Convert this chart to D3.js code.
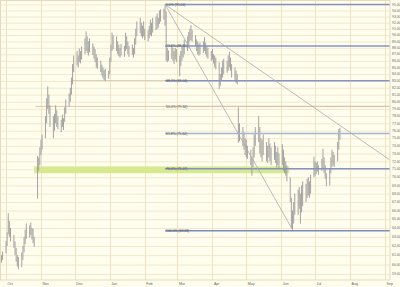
<!DOCTYPE html>
<html><head><meta charset="utf-8">
<script src="https://cdn.jsdelivr.net/npm/d3@7"></script>
<style>html,body{margin:0;padding:0;background:#FEFCEC;} svg{display:block;}</style>
</head><body><svg id="c" width="400" height="287"></svg>
<script>
// ---- data ----
const firstTradingDay = "2007-09-26";
const highs = [
 60.6,61.0,61.4,
 62.5,63.5,65.7,64.8,64.0,
 63.2,62.5,61.8,61.0,60.8,
 61.3,62.0,63.0,63.8,64.5,
 64.3,64.6,64.0,63.9,63.0,
 72.7,72.5,73.8,74.8,75.5,
 78.0,80.5,82.2,81.0,79.5,
 78.0,78.3,79.5,78.8,78.0,
 77.5,78.2,77.7,79.2,80.3,
 81.2,82.0,83.5,85.5,86.8,
 87.5,86.8,87.9,87.5,88.2,
 89.5,90.6,89.8,89.0,89.5,
 88.7,88.2,87.8,87.0,86.5,
 86.0,85.4,85.0,84.6,84.8,
 84.5,86.5,88.5,90.4,90.0,
 89.8,89.0,88.5,88.0,88.6,
 88.3,90.4,89.8,89.0,88.3,
 88.5,88.0,89.5,91.0,92.2,
 92.8,92.0,91.5,92.2,91.0,
 90.8,91.5,92.5,92.0,92.8,
 93.0,93.5,92.8,94.0,94.2,
 94.3,95.0,93.8,88.0,87.6,
 88.5,88.0,87.5,88.0,87.8,
 86.8,87.5,88.3,88.5,89.3,
 89.8,90.5,91.0,91.6,90.8,
 90.0,89.3,89.0,88.6,88.8,
 89.0,89.7,88.8,88.3,88.0,
 87.5,87.8,87.0,86.8,86.5,
 85.8,84.0,85.0,86.0,86.3,
 86.0,86.8,87.4,86.5,85.5,
 85.0,84.5,84.0,79.2,77.0,
 76.5,75.8,75.0,74.8,74.0,
 73.5,72.5,73.8,75.5,76.5,
 78.0,76.5,75.0,74.8,75.5,
 74.5,74.0,75.0,74.3,73.8,
 74.5,74.0,73.2,73.8,73.0,
 74.2,73.5,72.5,72.0,71.5,
 70.0,67.5,66.0,67.0,68.0,
 68.5,68.8,68.0,69.0,69.5,
 69.2,69.8,70.0,69.5,70.3,
 72.6,72.0,71.8,72.0,71.5,
 72.3,73.6,72.5,71.5,70.5,
 71.0,72.5,73.5,73.2,72.8,
 74.5,76.2,76.4
];
const lows = [
 59.9,60.2,60.5,
 61.2,62.0,63.3,63.0,62.5,
 61.8,61.0,60.3,59.8,59.5,
 59.7,60.5,61.3,62.2,62.8,
 62.9,63.2,62.7,62.3,61.9,
 67.4,70.8,71.5,72.8,73.5,
 75.0,77.0,79.0,78.3,76.5,
 75.0,76.0,77.0,76.5,76.2,
 75.8,76.5,76.1,77.2,78.3,
 79.3,80.0,81.0,82.5,84.3,
 85.3,85.0,85.8,85.6,86.2,
 87.0,87.5,87.2,86.8,87.3,
 86.9,86.3,85.8,85.0,84.8,
 84.3,83.8,83.4,83.1,83.0,
 83.3,84.0,85.8,87.5,87.8,
 87.5,87.0,86.7,86.5,86.8,
 86.6,87.5,87.8,87.0,86.6,
 86.9,86.5,87.0,88.5,89.8,
 90.3,89.8,89.5,89.8,89.2,
 89.0,89.5,90.0,89.8,90.4,
 90.8,91.0,91.2,91.8,92.2,
 92.5,91.5,86.0,85.8,86.0,
 86.3,86.0,85.5,86.2,85.8,
 83.7,85.2,86.0,86.5,87.0,
 87.5,88.0,89.0,89.2,89.0,
 88.3,87.5,87.0,86.8,87.0,
 87.2,87.5,87.0,86.6,86.3,
 86.0,86.2,85.6,85.0,84.7,
 81.8,82.3,83.0,83.5,84.0,
 84.2,84.5,85.0,84.5,83.5,
 83.0,82.7,82.5,74.4,74.6,
 74.0,73.5,72.8,72.5,72.3,
 71.5,70.2,71.3,72.5,74.0,
 74.5,73.0,72.5,72.0,72.8,
 72.0,71.8,72.5,72.0,71.5,
 72.2,71.8,71.2,71.5,71.0,
 71.5,70.8,70.5,70.2,69.5,
 67.0,64.0,63.8,64.5,65.5,
 65.5,66.2,64.5,65.8,66.5,
 67.0,67.5,67.8,67.5,68.0,
 70.0,70.2,70.4,70.7,70.3,
 70.8,71.0,70.5,69.8,68.9,
 69.0,70.5,71.3,71.5,71.3,
 72.0,73.5,74.8
];
const priceTicks = [59,60,61,62,63,64,65,66,67,68,69,70,71,72,73,74,75,76,77,78,79,80,81,82,83,84,85,86,87,88,89,90,91,92,93,94,95];
const monthTicks = ["2007-10-01","2007-11-01","2007-12-01","2008-01-01","2008-02-01","2008-03-01","2008-04-01","2008-05-01","2008-06-01","2008-07-01","2008-08-01","2008-09-01"];
const monthLabels = ["Oct","Nov","Dec","Jan","Feb","Mar","Apr","May","Jun","Jul","Aug","Sep"];
const fibStart = "2008-02-19";
const fibPrices = [95.00, 88.30, 83.04, 79.34, 75.64, 71.07, 63.68];
const fibLabels = ["0.0% (95.00)","23.6% (88.30)","38.2% (83.04)","50.0% (79.34)","61.8% (75.64)","76.4% (71.07)","100.0% (63.68)"];
const fibColors = ["#8494C2","#8494C2","#8494C2","#DDBFB2","#A6B6D2","#8494C2","#7A8CBC"];
const extLineStarts = [null,null,"2007-11-29","2007-10-27",null,null,null];
const trendFrom = [["2008-02-19",95.0],["2008-02-19",95.0]];
const trendTo   = [["2008-06-11",63.8],["2008-09-05",72.2]];
const bandDates = ["2007-10-26","2008-06-08"];
const bandPrices = [70.5, 71.35];

// ---- chart ----
const W=400,H=287, plotR=390, plotB=280;
const svg=d3.select("#c");
const parse=d3.timeParse("%Y-%m-%d");
const x=d3.scaleTime().domain([new Date(2007,8,25,16,20), new Date(2008,8,5,10,0)]).range([0,plotR]);
const y=d3.scaleLog().domain([95,59]).range([4.5,274]);

// trading days
const dates=[]; let d=parse(firstTradingDay);
while(dates.length<highs.length){ const wd=d.getDay(); if(wd!==0&&wd!==6) dates.push(new Date(d)); d=d3.timeDay.offset(d,1); }

svg.append("rect").attr("x",0).attr("y",0).attr("width",W).attr("height",H).attr("fill","#FEFCEC");
svg.append("rect").attr("x",0).attr("y",0).attr("width",plotR).attr("height",plotB).attr("fill","#FFFDEE");

const g=svg.append("g");
g.selectAll("line.hg").data(priceTicks).join("line")
 .attr("x1",0).attr("x2",plotR).attr("y1",p=>y(p)+0.5).attr("y2",p=>y(p)+0.5)
 .attr("stroke","#F1E9CC").attr("stroke-width",1);
g.selectAll("line.vg").data(monthTicks).join("line")
 .attr("x1",t=>Math.round(x(parse(t)))+0.5).attr("x2",t=>Math.round(x(parse(t)))+0.5)
 .attr("y1",0).attr("y2",plotB).attr("stroke","#EDE3C2").attr("stroke-width",1);

svg.append("rect").attr("x",x(parse(bandDates[0]))).attr("width",x(parse(bandDates[1]))-x(parse(bandDates[0])))
 .attr("y",y(bandPrices[1])).attr("height",y(bandPrices[0])-y(bandPrices[1]))
 .attr("fill","#D6E98F");

fibPrices.forEach((p,i)=>{
  if(extLineStarts[i]){
    svg.append("line").attr("x1",x(parse(extLineStarts[i]))).attr("x2",x(parse(fibStart)))
      .attr("y1",y(p)).attr("y2",y(p)).attr("stroke","#DEC8B0").attr("stroke-width",1);
  }
});

svg.append("g").selectAll("line").data(dates).join("line")
 .attr("x1",(t)=>x(t)).attr("x2",(t)=>x(t))
 .attr("y1",(t,i)=>y(highs[i])).attr("y2",(t,i)=>y(lows[i]))
 .attr("stroke","#999").attr("stroke-width",0.9);

const fx=x(parse(fibStart));
fibPrices.forEach((p,i)=>{
  svg.append("line").attr("x1",fx).attr("x2",plotR).attr("y1",y(p)).attr("y2",y(p))
    .attr("stroke",fibColors[i]).attr("stroke-width",i===3?1.2:1.5);
  svg.append("text").attr("x",fx+1).attr("y",y(p)).attr("dy","0.35em")
    .attr("font-family","Liberation Sans, Arial, sans-serif").attr("font-size",3.4)
    .attr("fill","#555").text(fibLabels[i]);
});

trendFrom.forEach((f,i)=>{
  const t=trendTo[i];
  svg.append("line").attr("x1",x(parse(f[0]))).attr("y1",y(f[1]))
   .attr("x2",x(parse(t[0]))).attr("y2",y(t[1]))
   .attr("stroke","#A9A9A9").attr("stroke-width",0.8);
});

svg.append("g").selectAll("text").data(priceTicks).join("text")
 .attr("x",392).attr("y",p=>y(p)).attr("dy","0.35em")
 .attr("font-family","Liberation Sans, Arial, sans-serif").attr("font-size",3.4)
 .attr("fill","#666").text(p=>d3.format(".2f")(p));

svg.append("g").selectAll("text").data(monthTicks).join("text")
 .attr("x",t=>x(parse(t))+1.5).attr("y",285)
 .attr("font-family","Liberation Sans, Arial, sans-serif").attr("font-size",3.6)
 .attr("fill","#666").text((t,i)=>monthLabels[i]);

svg.append("rect").attr("x",0.5).attr("y",0.5).attr("width",plotR-0.5).attr("height",plotB-0.5)
 .attr("fill","none").attr("stroke","#E4DBBA").attr("stroke-width",1);
</script></body></html>
